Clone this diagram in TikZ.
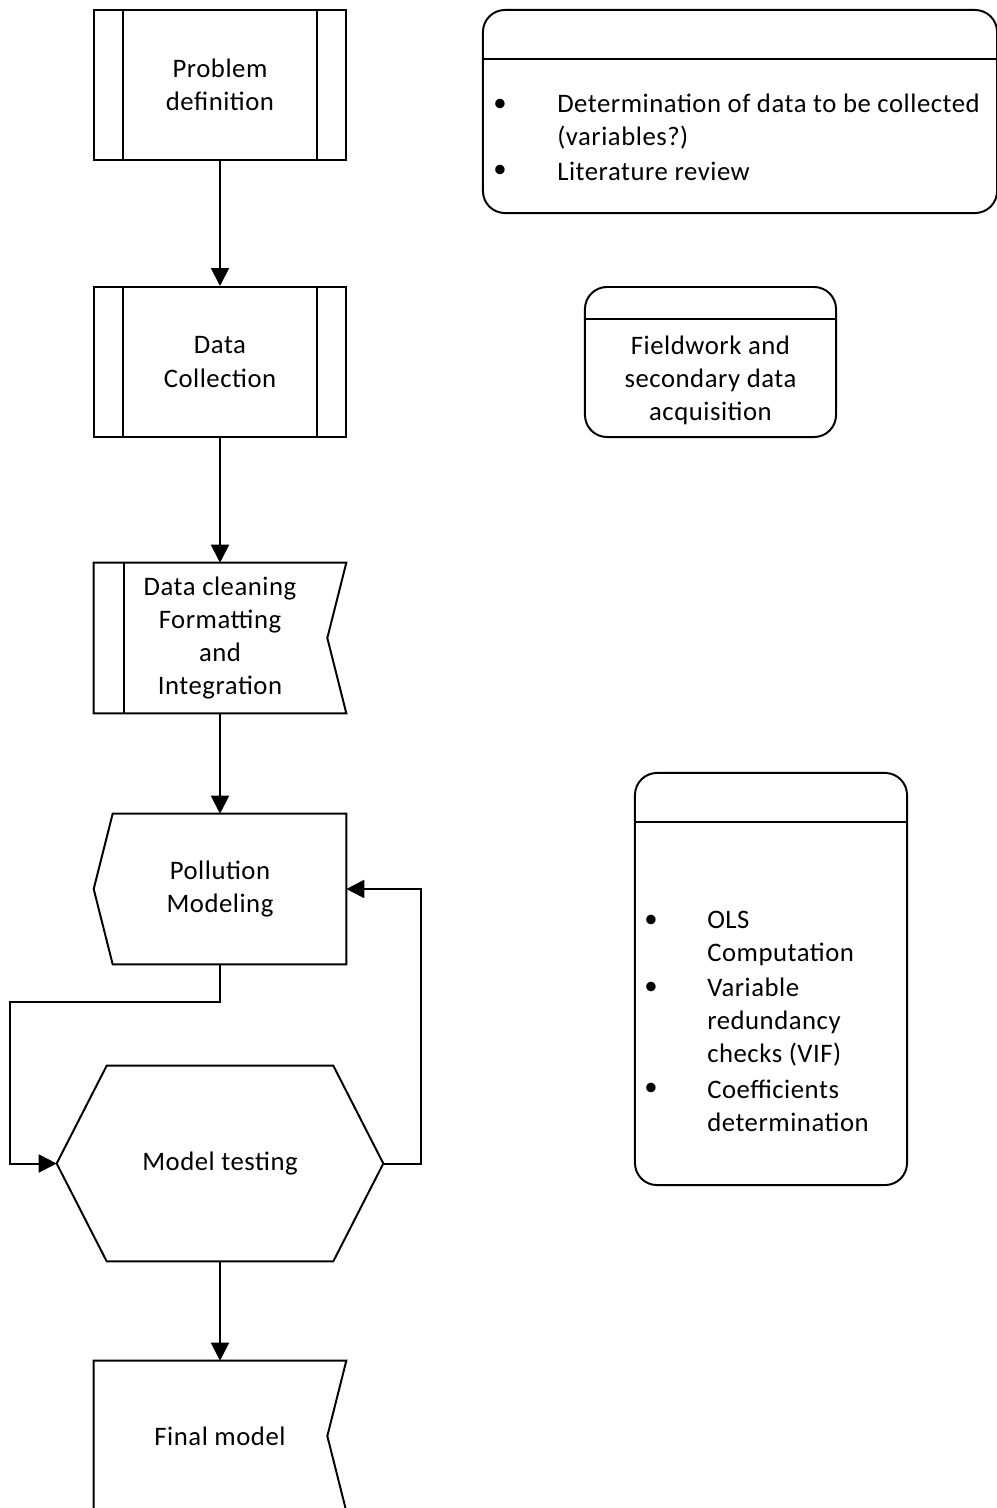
\documentclass[tikz,border=0pt]{standalone}
\usepackage{fontspec}
\setmainfont{Carlito}[LetterSpace=2]
\usepackage{tikz}
\usetikzlibrary{positioning, arrows.meta, calc}
\definecolor{fInk}{HTML}{000000}
\definecolor{fLine}{HTML}{000000}
\definecolor{fFill}{HTML}{FFFFFF}

\begin{document}
\begin{tikzpicture}[x=0.025cm, y=-0.025cm,
  every node/.style={font=\fontsize{19}{23.5}\selectfont, text=fInk},
  blk/.style={rectangle, minimum width=6.3cm, minimum height=3.75cm, inner sep=0pt, align=center},
  edge/.style={draw=fLine, line width=1.4pt, line join=miter},
  flow/.style={edge, -{Triangle[length=0.45cm, width=0.45cm]}},
  note/.style={draw=fLine, line width=1.4pt, rounded corners=0.55cm, inner sep=0pt},
  item/.style={anchor=west, align=left, inner sep=0pt},
  dot/.style={inner sep=0pt}]
  \clip (0,0) rectangle (997,1508);

  % main column
  \node[blk, edge] (pd) at (220,85) {Problem\\definition};
  \node[blk, edge] (dcol) at (220,362) {Data\\Collection};
  \foreach \n in {pd,dcol}
    {\draw[edge] ($(\n.north west)+(30,0)$) -- ($(\n.south west)+(30,0)$);
     \draw[edge] ($(\n.north east)+(-30,0)$) -- ($(\n.south east)+(-30,0)$);}

  \node[blk] (dcl) at (220,638) {Data cleaning\\Formatting\\and\\Integration};
  \draw[edge] (dcl.north west) -- (dcl.north east) -- ($(dcl.east)+(-19,0)$)
    -- (dcl.south east) -- (dcl.south west) -- cycle;
  \draw[edge] ($(dcl.north west)+(30,0)$) -- ($(dcl.south west)+(30,0)$);

  \node[blk] (pm) at (220,889) {Pollution\\Modeling};
  \draw[edge] ($(pm.north west)+(19,0)$) -- (pm.north east) -- (pm.south east)
    -- ($(pm.south west)+(19,0)$) -- (pm.west) -- cycle;

  \node[blk, minimum width=8.15cm, minimum height=4.875cm] (mt) at (220,1163.5) {Model testing};
  \draw[edge] ($(mt.north west)+(50,0)$) -- ($(mt.north east)+(-50,0)$) -- (mt.east)
    -- ($(mt.south east)+(-50,0)$) -- ($(mt.south west)+(50,0)$) -- (mt.west) -- cycle;

  \node[blk] (fm) at (220,1436) {Final model};
  \draw[edge] (fm.south west) -- (fm.north west) -- (fm.north east)
    -- ($(fm.east)+(-19,0)$) -- (fm.south east);

  % connectors
  \coordinate (lp) at (10,1002);
  \coordinate (rp) at (421,889);
  \draw[flow] (pd) -- (dcol);
  \draw[flow] (dcol) -- (dcl);
  \draw[flow] (dcl) -- (pm);
  \draw[flow] (pm.south) |- (lp) |- (mt.west);
  \draw[flow] (mt.east) -| (rp) -- (pm.east);
  \draw[flow] (mt) -- (fm);

  % notes
  \node[note, minimum width=12.85cm, minimum height=5.075cm] (lit) at (740,111.5) {};
  \node[note, minimum width=6.275cm, minimum height=3.75cm] (fw) at (710.5,362) {};
  \node[note, minimum width=6.8cm, minimum height=10.3cm] (ols) at (771,979) {};
  \draw[edge] ($(lit.north west)+(0,50)$) -- ($(lit.north east)+(0,50)$);
  \draw[edge] ($(fw.north west)+(0,33)$) -- ($(fw.north east)+(0,33)$);
  \draw[edge] ($(ols.north west)+(0,50)$) -- ($(ols.north east)+(0,50)$);

  \node[align=center, inner sep=0pt] (fwt) at (710.5,380) {Fieldwork and\\secondary data\\acquisition};

  \node[dot] (b1) at (500,105) {\textbullet};
  \node[dot] (b2) at (500,171) {\textbullet};
  \node[item] (t1) at (557,121.5) {Determination of data to be collected\\(variables?)};
  \node[item] (t2) at (557,171) {Literature review};

  \node[dot] (b3) at (651,921) {\textbullet};
  \node[dot] (b4) at (651,988) {\textbullet};
  \node[dot] (b5) at (651,1089) {\textbullet};
  \node[item] (t3) at (707,938) {OLS\\Computation};
  \node[item] (t4) at (707,1022) {Variable\\redundancy\\checks (VIF)};
  \node[item] (t5) at (707,1106) {Coefficients\\determination};
\end{tikzpicture}
\end{document}
